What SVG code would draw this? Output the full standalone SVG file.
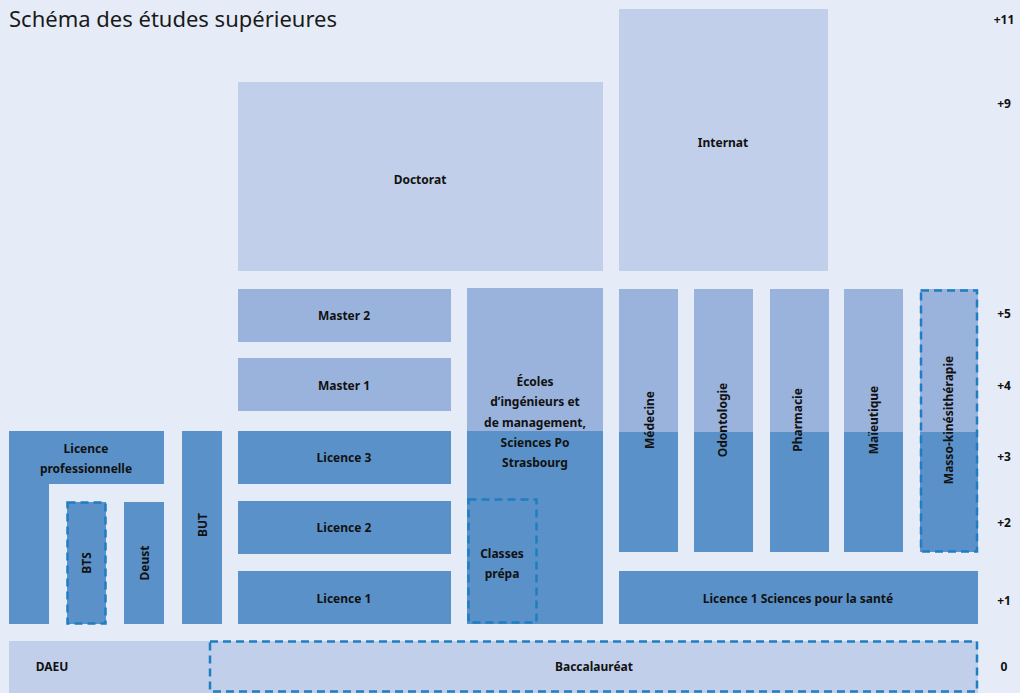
<svg xmlns="http://www.w3.org/2000/svg" width="1020" height="693" viewBox="0 0 1020 693">
<style>
.l{fill:#C1CFEA}
.m{fill:#9AB3DC}
.d{fill:#5B91C9}
.dash{fill:none;stroke:#1F7EC2;stroke-width:2.5;stroke-dasharray:8 5}
text{font-family:"Noto Sans","Liberation Sans",sans-serif;font-weight:bold;font-size:12px;fill:#111;text-anchor:middle;dominant-baseline:central}
.t{font-weight:normal;font-size:22px;text-anchor:start;fill:#1a1a1a}
</style>
<rect width="1020" height="693" fill="#E6ECF7"/>
<text class="t" x="9" y="18">Schéma des études supérieures</text>
<g id="axis">
<text x="1004" y="19">+11</text>
<text x="1004" y="103">+9</text>
<text x="1004" y="313">+5</text>
<text x="1004" y="385">+4</text>
<text x="1004" y="456">+3</text>
<text x="1004" y="522">+2</text>
<text x="1004" y="600">+1</text>
<text x="1004" y="666">0</text>
</g>
<g id="daeu"><rect class="l" x="9" y="641" width="969" height="52"/><text x="52" y="666">DAEU</text></g>
<g id="bac"><rect class="dash" x="210" y="641.5" width="767" height="50"/><text x="594" y="666">Baccalauréat</text></g>
<g id="licencepro"><path class="d" d="M9 431H164V484H49V624H9Z"/><text x="86" y="448">Licence</text><text x="86" y="468">professionnelle</text></g>
<g id="bts"><rect class="d" x="67" y="502" width="39" height="122"/><rect class="dash" x="67.5" y="502.5" width="38" height="121"/><text transform="translate(86 563) rotate(-90)">BTS</text></g>
<g id="deust"><rect class="d" x="124" y="502" width="40" height="122"/><text transform="translate(144 563) rotate(-90)">Deust</text></g>
<g id="but"><rect class="d" x="182" y="431" width="40" height="193"/><text transform="translate(202 525) rotate(-90)">BUT</text></g>
<g id="licence1"><rect class="d" x="238" y="571" width="213" height="53"/><text x="344" y="598">Licence 1</text></g>
<g id="licence2"><rect class="d" x="238" y="501" width="213" height="53"/><text x="344" y="527">Licence 2</text></g>
<g id="licence3"><rect class="d" x="238" y="431" width="213" height="53"/><text x="344" y="457">Licence 3</text></g>
<g id="master1"><rect class="m" x="238" y="358" width="213" height="53"/><text x="344" y="385">Master 1</text></g>
<g id="master2"><rect class="m" x="238" y="289" width="213" height="53"/><text x="344" y="315">Master 2</text></g>
<g id="doctorat"><rect class="l" x="238" y="82" width="365" height="189"/><text x="420" y="179">Doctorat</text></g>
<g id="internat"><rect class="l" x="619" y="9" width="209" height="262"/><text x="723" y="142">Internat</text></g>
<g id="ecoles"><rect class="m" x="467" y="288" width="136" height="144"/><rect class="d" x="467" y="431" width="136" height="193"/>
<text x="535" y="381">Écoles</text><text x="535" y="401">d’ingénieurs et</text><text x="535" y="422">de management,</text><text x="535" y="442">Sciences Po</text><text x="535" y="462">Strasbourg</text></g>
<g id="prepa"><rect class="dash" x="468.5" y="499.5" width="68" height="123"/><text x="502" y="553">Classes</text><text x="502" y="573">prépa</text></g>
<g id="medecine"><rect class="m" x="619" y="289" width="59" height="144"/><rect class="d" x="619" y="432" width="59" height="120"/><text transform="translate(649 420) rotate(-90)">Médecine</text></g>
<g id="odonto"><rect class="m" x="694" y="289" width="59" height="144"/><rect class="d" x="694" y="432" width="59" height="120"/><text transform="translate(722 420) rotate(-90)">Odontologie</text></g>
<g id="pharma"><rect class="m" x="770" y="289" width="59" height="144"/><rect class="d" x="770" y="432" width="59" height="120"/><text transform="translate(797 420) rotate(-90)">Pharmacie</text></g>
<g id="maieutique"><rect class="m" x="844" y="289" width="59" height="144"/><rect class="d" x="844" y="432" width="59" height="120"/><text transform="translate(873 420) rotate(-90)">Maïeutique</text></g>
<g id="masso"><rect class="m" x="920" y="289" width="58" height="144"/><rect class="d" x="920" y="432" width="58" height="120"/><rect class="dash" x="921" y="290.5" width="56" height="261"/><text transform="translate(948 420) rotate(-90)">Masso-kinésithérapie</text></g>
<g id="l1sante"><rect class="d" x="619" y="571" width="359" height="53"/><text x="798" y="598">Licence 1 Sciences pour la santé</text></g>
<g id="connectors"></g>
</svg>
